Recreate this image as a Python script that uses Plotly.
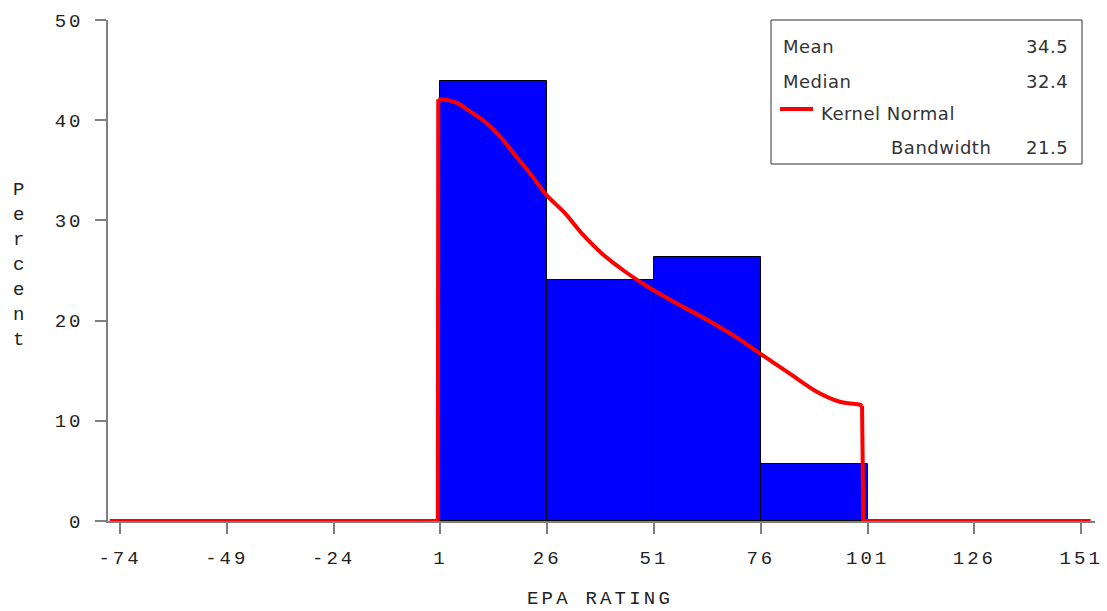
import plotly.graph_objects as go

# ---------------- data ----------------
bin_edges = [1, 26, 51, 76, 101]
bin_percent = [43.9, 24.1, 26.3, 5.7]

kde_x = [-76.4, 0.4, 0.5, 2.8, 5.0, 7.5, 11.4, 15.3, 18.5, 21.6, 25.9, 30.2, 34.1,
         38.8, 44.2, 48.9, 52.8, 55.5, 63.3, 71.1, 76.2, 82.8, 89.1, 94.5, 99.2,
         99.7, 100.0, 153.2]
kde_y = [0.0, 0.0, 42.1, 42.0, 41.7, 41.0, 39.85, 38.2, 36.5, 34.9, 32.5, 30.7, 28.7,
         26.7, 24.9, 23.55, 22.55, 21.9, 20.1, 18.1, 16.6, 14.7, 12.9, 11.9, 11.6,
         11.5, 0.0, 0.0]

x_ticks = [-74, -49, -24, 1, 26, 51, 76, 101, 126, 151]
y_ticks = [0, 10, 20, 30, 40, 50]

stats_labels = ["Mean", "Median"]
stats_values = ["34.5", "32.4"]
kernel_label = "Kernel Normal"
bandwidth_label = "Bandwidth"
bandwidth_value = "21.5"
x_title = "EPA RATING"
y_title = "Percent"

# ---------------- layout geometry (pixels) ----------------
W, H = 1107, 611
L, R, T, B = 108, 1095, 20, 521
px_per_unit = 106.8 / 25.0
x0 = -74 - (120 - L) / px_per_unit
x1 = x0 + (R - L) / px_per_unit


def xp(px):
    return (px - L) / (R - L)


def yp(py):
    return (B - py) / (B - T)


def spaced(s, ls=3.0):
    return f'<span style="letter-spacing:{ls}px">{s}</span>'


mono = "Liberation Mono"
sans = "DejaVu Sans"
txt_col = "#222222"
axis_col = "#7f7f7f"

centers = [(a + b) / 2 for a, b in zip(bin_edges[:-1], bin_edges[1:])]
widths = [b - a for a, b in zip(bin_edges[:-1], bin_edges[1:])]

fig = go.Figure()
fig.add_trace(go.Bar(x=centers, y=bin_percent, width=widths,
                     marker=dict(color="#0000FF", line=dict(color="#000000", width=1)),
                     showlegend=False, hoverinfo="x+y"))

# kernel density: straight jumps at the support edges, smooth body
red = dict(color="#FF0000", width=4)
segments = [(slice(0, 3), "linear"), (slice(2, 26), "spline"), (slice(25, None), "linear")]
for sl, shape in segments:
    fig.add_trace(go.Scatter(x=kde_x[sl], y=kde_y[sl], mode="lines",
                             line=dict(**red, shape=shape, smoothing=0.8) if shape == "spline"
                             else dict(**red, shape=shape),
                             showlegend=False, hoverinfo="x+y"))

fig.update_layout(
    template="none",
    width=W, height=H,
    margin=dict(l=L, r=W - R, t=T, b=H - B, pad=0, autoexpand=False),
    plot_bgcolor="white", paper_bgcolor="white",
    bargap=0,
    xaxis=dict(range=[x0, x1], tickvals=x_ticks,
               ticktext=[spaced(str(v)) for v in x_ticks],
               showgrid=False, zeroline=False, showline=True, automargin=False,
               linecolor=axis_col, linewidth=1.5,
               ticks="outside", ticklen=11, tickcolor=axis_col, tickwidth=1.5,
               ticklabelstandoff=7,
               tickfont=dict(family=mono, size=19, color=txt_col)),
    yaxis=dict(range=[0, 50], tickvals=y_ticks,
               ticktext=[spaced(str(v)) for v in y_ticks],
               showgrid=False, zeroline=False, showline=True, automargin=False,
               linecolor=axis_col, linewidth=1.5,
               ticks="outside", ticklen=11, tickcolor=axis_col, tickwidth=1.5,
               ticklabelstandoff=8,
               tickfont=dict(family=mono, size=19, color=txt_col)),
)

annotations = []
# x title
annotations.append(dict(x=xp(600), y=yp(599), xref="paper", yref="paper",
                        text=spaced(x_title, 3.2), showarrow=False,
                        xanchor="center", yanchor="middle",
                        font=dict(family=mono, size=19, color=txt_col)))
# y title stacked letters
for i, ch in enumerate(y_title):
    annotations.append(dict(x=xp(18), y=yp(190 + 25 * i), xref="paper", yref="paper",
                            text=ch, showarrow=False, xanchor="center", yanchor="middle",
                            font=dict(family=mono, size=19, color=txt_col)))

# legend / stats box
fig.add_shape(type="rect", xref="paper", yref="paper",
              x0=xp(771), x1=xp(1082), y0=yp(164), y1=yp(20),
              line=dict(color="#333333", width=1), fillcolor="white", layer="above")
lg_font = dict(family=sans, size=18, color="#333333")
for lab, val, py in zip(stats_labels, stats_values, [47, 81]):
    annotations.append(dict(x=xp(781), y=yp(py), xref="paper", yref="paper",
                            text=spaced(lab, 0.5), showarrow=False,
                            xanchor="left", yanchor="middle", font=lg_font))
    annotations.append(dict(x=xp(1070), y=yp(py), xref="paper", yref="paper",
                            text=spaced(val, 0.5), showarrow=False,
                            xanchor="right", yanchor="middle", font=lg_font))
fig.add_shape(type="line", xref="paper", yref="paper",
              x0=xp(780), x1=xp(813), y0=yp(109), y1=yp(109),
              line=dict(color="#FF0000", width=4), layer="above")
annotations.append(dict(x=xp(819), y=yp(114), xref="paper", yref="paper",
                        text=spaced(kernel_label, 0.5), showarrow=False,
                        xanchor="left", yanchor="middle", font=lg_font))
annotations.append(dict(x=xp(889), y=yp(147), xref="paper", yref="paper",
                        text=spaced(bandwidth_label, 0.5), showarrow=False,
                        xanchor="left", yanchor="middle", font=lg_font))
annotations.append(dict(x=xp(1070), y=yp(147), xref="paper", yref="paper",
                        text=spaced(bandwidth_value, 0.5), showarrow=False,
                        xanchor="right", yanchor="middle", font=lg_font))

fig.update_layout(annotations=annotations)
fig.write_html("out.html", config={"displayModeBar": False},
               post_script="document.body.style.margin='0';document.body.style.overflow='hidden';")
